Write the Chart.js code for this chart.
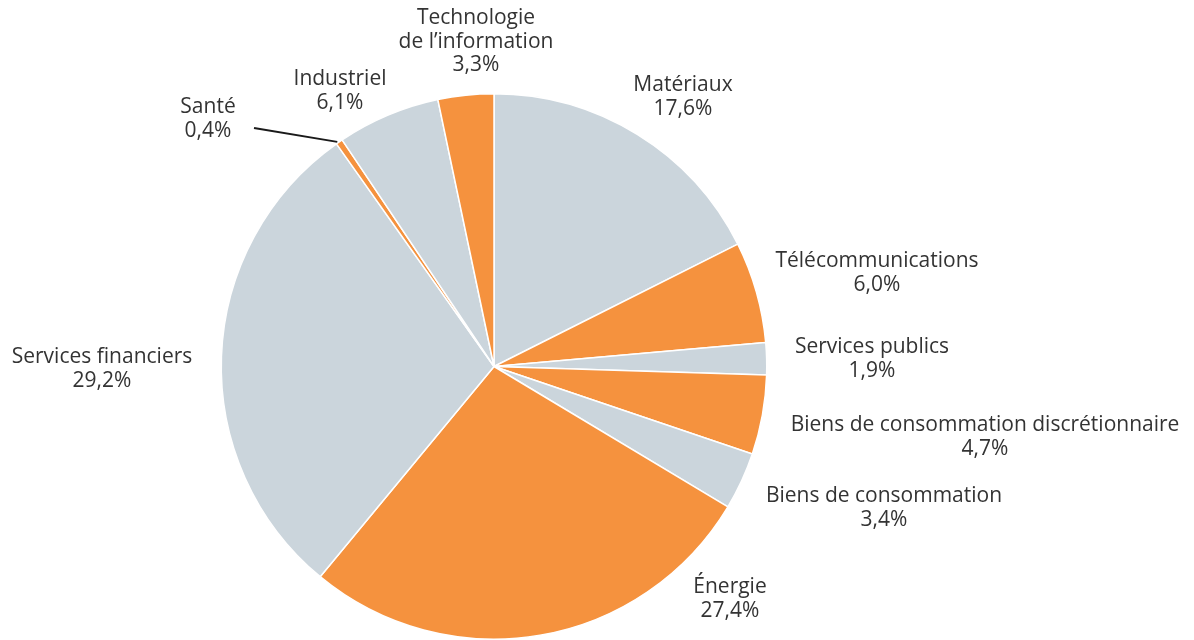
<!DOCTYPE html>
<html>
<head>
<meta charset="utf-8">
<script src="https://cdn.jsdelivr.net/npm/chart.js@4"></script>
<style>
  html, body { margin: 0; padding: 0; background: #fff; }
  #wrap { width: 1194px; height: 640px; position: relative; }
</style>
</head>
<body>
<div id="wrap"><canvas id="G1"></canvas></div>
<script>
// secteurs, dans le sens horaire depuis midi
const sectors = [
  ['Matériaux'],
  ['Télécommunications'],
  ['Services publics'],
  ['Biens de consommation discrétionnaire'],
  ['Biens de consommation'],
  ['Énergie'],
  ['Services financiers'],
  ['Santé'],
  ['Industriel'],
  ['Technologie', 'de l\u2019information']
];
const shares = [17.6, 6.0, 1.9, 4.7, 3.4, 27.4, 29.2, 0.4, 6.1, 3.3];
const shareLabels = ['17,6%', '6,0%', '1,9%', '4,7%', '3,4%', '27,4%', '29,2%', '0,4%', '6,1%', '3,3%'];

const GREY = '#cbd5dc';
const ORANGE = '#f5923e';
const colors = shares.map((v, i) => i % 2 === 0 ? GREY : ORANGE);

// label text centres, relative to pie centre (px)
const labelOffsets = [
  [189, -281], [383, -105], [378, -19], [491, 59], [390, 130],
  [236, 221], [-392, -9], [-286, -259], [-154, -287], [-18, -348]
];
const LINE_H = 23.5;

const labelPlugin = {
  id: 'sectorLabels',
  afterDatasetsDraw(chart) {
    const ctx = chart.ctx;
    const arcs = chart.getDatasetMeta(0).data;
    ctx.save();
    ctx.font = '21px "Open Sans"';
    ctx.fillStyle = '#333333';
    ctx.textAlign = 'center';
    ctx.textBaseline = 'middle';
    arcs.forEach((arc, i) => {
      const p = arc.getProps(['x', 'y', 'startAngle', 'endAngle', 'outerRadius'], true);
      const lines = sectors[i].concat([shareLabels[i]]);
      const cx = p.x + labelOffsets[i][0];
      const cy = p.y + labelOffsets[i][1];
      lines.forEach((t, k) => ctx.fillText(t, cx, cy + k * LINE_H));
      if (shares[i] < 1) {
        // leader line for tiny slice
        const mid = (p.startAngle + p.endAngle) / 2;
        const ex = p.x + Math.cos(mid) * p.outerRadius;
        const ey = p.y + Math.sin(mid) * p.outerRadius;
        ctx.beginPath();
        ctx.strokeStyle = '#1a1a1a';
        ctx.lineWidth = 2;
        ctx.moveTo(cx + 46, cy + LINE_H - 3);
        ctx.lineTo(ex - 2, ey);
        ctx.stroke();
      }
    });
    ctx.restore();
  }
};

window.G1 = {
  type: 'pie',
  data: {
    labels: sectors.map(s => s.join(' ')),
    datasets: [{
      data: shares,
      backgroundColor: colors,
      borderColor: '#ffffff',
      borderWidth: 1.5
    }]
  },
  options: {
    responsive: false,
    animation: false,
    layout: { padding: { left: 220, right: 426, top: 93, bottom: 0 } },
    plugins: {
      legend: { display: false },
      tooltip: { enabled: false }
    }
  },
  plugins: [labelPlugin]
};

const cv = document.getElementById('G1');
cv.width = 1194;
cv.height = 640;
new Chart(cv, window.G1);
</script>
</body>
</html>
